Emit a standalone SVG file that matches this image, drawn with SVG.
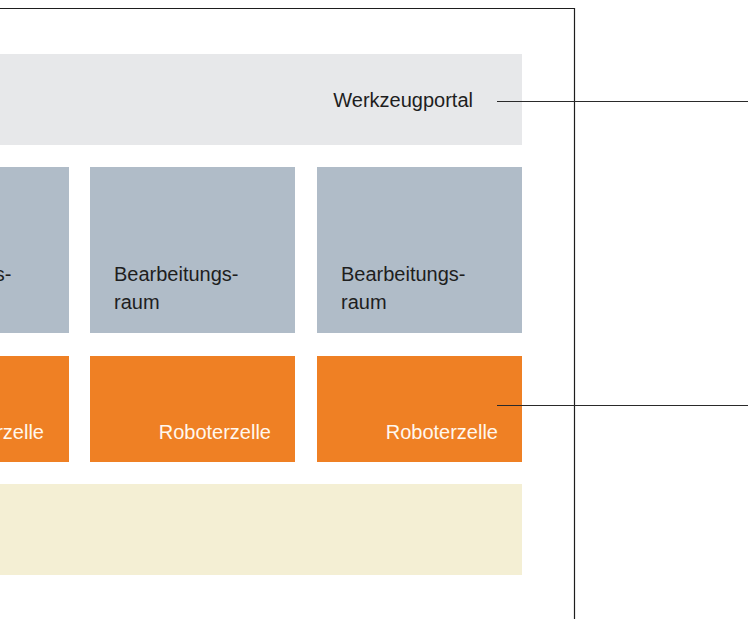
<svg xmlns="http://www.w3.org/2000/svg" width="748" height="619" viewBox="0 0 748 619">
<style>
.t{font-family:"Liberation Sans",Arial,sans-serif;font-size:20px;fill:#1e1e1e}
.w{font-family:"Liberation Sans",Arial,sans-serif;font-size:20px;fill:#fff7ee}
.frame{fill:none;stroke:#1e1e1e;stroke-width:1.2}
.lead{stroke:#2a2a2a;stroke-width:1.1;fill:none}
.raum{fill:#b0bcc8}
.robo{fill:#ef8024}
</style>
<rect width="748" height="619" fill="#ffffff"/>
<path class="frame" d="M0 8.5H574.5V619"/>
<g id="werkzeugportal">
<rect x="0" y="54" width="522" height="91" fill="#e7e8ea"/>
<text class="t" x="473" y="107" text-anchor="end">Werkzeugportal</text>
</g>
<g id="raum1">
<rect class="raum" x="-136" y="167" width="205" height="166"/>
<text class="t" x="-113" y="281">Bearbeitungs-</text>
<text class="t" x="-113" y="309">raum</text>
</g>
<g id="raum2">
<rect class="raum" x="90" y="167" width="205" height="166"/>
<text class="t" x="114" y="281">Bearbeitungs-</text>
<text class="t" x="114" y="309">raum</text>
</g>
<g id="raum3">
<rect class="raum" x="317" y="167" width="205" height="166"/>
<text class="t" x="341" y="281">Bearbeitungs-</text>
<text class="t" x="341" y="309">raum</text>
</g>
<g id="robo1">
<rect class="robo" x="-136" y="356" width="205" height="106"/>
<text class="w" x="44" y="439" text-anchor="end">Roboterzelle</text>
</g>
<g id="robo2">
<rect class="robo" x="90" y="356" width="205" height="106"/>
<text class="w" x="271" y="439" text-anchor="end">Roboterzelle</text>
</g>
<g id="robo3">
<rect class="robo" x="317" y="356" width="205" height="106"/>
<text class="w" x="498" y="439" text-anchor="end">Roboterzelle</text>
</g>
<g id="basis">
<rect x="0" y="484" width="522" height="91" fill="#f4efd4"/>
</g>
<g id="connectors">
<line class="lead" x1="497" y1="101.5" x2="748" y2="101.5" stroke="#555"/>
<line class="lead" x1="497" y1="405.5" x2="748" y2="405.5"/>
</g>
</svg>
